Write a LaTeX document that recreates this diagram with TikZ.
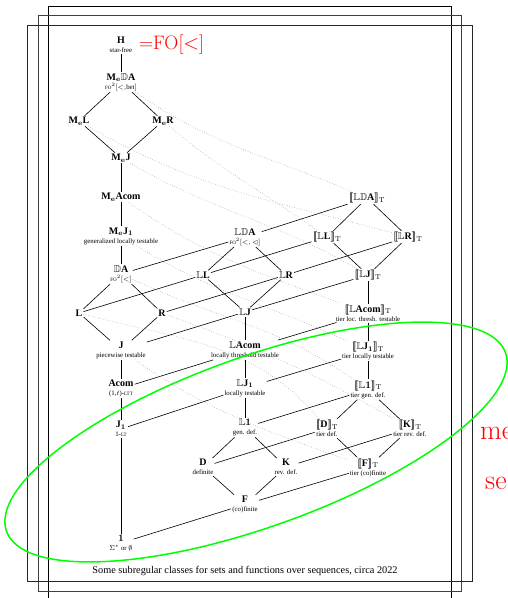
\documentclass[tikz,border=0pt]{standalone}
\usepackage{amssymb}
\usepackage[no-math]{fontspec}
\setmainfont{Liberation Serif}
\usetikzlibrary{positioning}

\newcommand\Me{M$_{\mathbf{e}}$}
\newcommand\bbD{$\mathbb{D}$}
\newcommand\bbL{$\mathbb{L}$}
\newcommand\Jone{J$_{\mathbf{1}}$}
\newcommand\tier[1]{{\boldmath$[\![$}#1{\boldmath$]\!]$}$_{\mathrm{T}}$}
\newcommand\smc[1]{{\fontsize{5}{5}\selectfont #1}}
\newcommand\subf{\fontsize{6.8}{7}\mdseries\selectfont}
\newcommand\lm{\fontfamily{lmr}\selectfont}

\begin{document}
\begin{tikzpicture}[
  x=1pt, y=-1pt,
  cls/.style={align=center, inner sep=1pt, font=\fontsize{10}{9}\selectfont\bfseries},
  edge/.style={draw=black, line width=0.6pt},
  dotl/.style={draw=black!45, dotted, line width=0.5pt},
  frame/.style={draw=#1, line width=0.8pt},
  bigred/.style={text=red, inner sep=0pt, font=\lm},
]
  \useasboundingbox (0,0) rectangle (507,598);

  % page frames
  \draw[frame=black] (48,6) rectangle (451,612);
  \draw[frame=black!75] (38,15) rectangle (461,591);
  \draw[frame=black!85] (27,25) rectangle (472,581);

  % left column
  \node[cls] (H) at (121,44.5) {H\\{\subf star-free}};
  \node[bigred, anchor=west, font=\lm\fontsize{19.5}{20}\selectfont] (fo) at (139,45) {=FO[$<$]};
  \node[cls] (MeDA) at (121,82) {\Me\bbD A\\{\subf\smc{FO}$^2[<,$bet$]$}};
  \node[cls] (MeL) at (79,121) {\Me L};
  \node[cls] (MeR) at (163,121) {\Me R};
  \node[cls] (MeJ) at (121,158) {\Me J};
  \node[cls] (MeAcom) at (121,197) {\Me Acom};
  \node[cls] (MeJ1) at (121,236) {\Me\Jone\\{\subf generalized locally testable}};
  \node[cls] (DA) at (121,274) {\bbD A\\{\subf\smc{FO}$^2[<]$}};
  \node[cls] (L) at (79,313) {L};
  \node[cls] (R) at (162,313) {R};
  \node[cls] (J) at (121,350) {J\\{\subf piecewise testable}};
  \node[cls] (Acom) at (121,388.5) {Acom\\{\subf (1,$t$)-\smc{LTT}}};
  \node[cls] (J1) at (121,429) {\Jone\\{\subf 1-\smc{LT}}};
  \node[cls] (One) at (121,543) {$\mathbf{1}$\\{\subf $\Sigma^*$ or $\emptyset$}};

  % middle column
  \node[cls] (LDA) at (245,237) {\bbL\bbD A\\{\subf\smc{FO}$^2[<,\lhd]$}};
  \node[cls] (LL) at (203,275) {\bbL L};
  \node[cls] (LR) at (286,275) {\bbL R};
  \node[cls] (LJ) at (245,312) {\bbL J};
  \node[cls] (LAcom) at (245,350) {\bbL Acom\\{\subf locally threshold testable}};
  \node[cls] (LJ1) at (245,388) {\bbL\Jone\\{\subf locally testable}};
  \node[cls] (L1) at (245,427.5) {\bbL$\mathbf{1}$\\{\subf gen. def.}};
  \node[cls] (D) at (203,467) {D\\{\subf definite}};
  \node[cls] (K) at (286,467) {K\\{\subf rev. def.}};
  \node[cls] (F) at (245,504.5) {F\\{\subf (co)finite}};

  % right column
  \node[cls] (TLDA) at (367,198) {\tier{\bbL\bbD A}};
  \node[cls] (TLL) at (327,237) {\tier{\bbL L}};
  \node[cls] (TLR) at (408,237) {\tier{\bbL R}};
  \node[cls] (TLJ) at (368,275) {\tier{\bbL J}};
  \node[cls] (TLAcom) at (368,313) {\tier{\bbL Acom}\\{\subf tier loc. thresh. testable}};
  \node[cls] (TLJ1) at (368,351) {\tier{\bbL\Jone}\\{\subf tier locally testable}};
  \node[cls] (TL1) at (368,389.5) {\tier{\bbL$\mathbf{1}$}\\{\subf tier gen. def.}};
  \node[cls] (TD) at (327,428.5) {\tier{D}\\{\subf tier def.}};
  \node[cls] (TK) at (410,428.5) {\tier{K}\\{\subf tier rev. def.}};
  \node[cls] (TF) at (368,467.5) {\tier{F}\\{\subf tier (co)finite}};

  % caption
  \node[font=\fontsize{10.3}{11}\selectfont] (cap) at (245,571) {Some subregular classes for sets and functions over sequences, circa 2022};

  % left lattice
  \draw[edge] (H) -- (MeDA);
  \draw[edge] (MeDA) -- (MeL);
  \draw[edge] (MeDA) -- (MeR);
  \draw[edge] (MeL) -- (MeJ);
  \draw[edge] (MeR) -- (MeJ);
  \draw[edge] (MeJ) -- (MeAcom);
  \draw[edge] (MeAcom) -- (MeJ1);
  \draw[edge] (MeJ1) -- (DA);
  \draw[edge] (DA) -- (L);
  \draw[edge] (DA) -- (R);
  \draw[edge] (L) -- (J);
  \draw[edge] (R) -- (J);
  \draw[edge] (J) -- (Acom);
  \draw[edge] (Acom) -- (J1);
  \draw[edge] (J1) -- (One);

  % middle lattice
  \draw[edge] (LDA) -- (LL);
  \draw[edge] (LDA) -- (LR);
  \draw[edge] (LL) -- (LJ);
  \draw[edge] (LR) -- (LJ);
  \draw[edge] (LJ) -- (LAcom);
  \draw[edge] (LAcom) -- (LJ1);
  \draw[edge] (LJ1) -- (L1);
  \draw[edge] (L1) -- (D);
  \draw[edge] (L1) -- (K);
  \draw[edge] (D) -- (F);
  \draw[edge] (K) -- (F);

  % tier lattice
  \draw[edge] (TLDA) -- (TLL);
  \draw[edge] (TLDA) -- (TLR);
  \draw[edge] (TLL) -- (TLJ);
  \draw[edge] (TLR) -- (TLJ);
  \draw[edge] (TLJ) -- (TLAcom);
  \draw[edge] (TLAcom) -- (TLJ1);
  \draw[edge] (TLJ1) -- (TL1);
  \draw[edge] (TL1) -- (TD);
  \draw[edge] (TL1) -- (TK);
  \draw[edge] (TD) -- (TF);
  \draw[edge] (TK) -- (TF);

  % left to middle
  \draw[edge] (DA) -- (LDA);
  \draw[edge] (L) -- (LL);
  \draw[edge] (R) -- (LR);
  \draw[edge] (J) -- (LJ);
  \draw[edge] (Acom) -- (LAcom);
  \draw[edge] (J1) -- (LJ1);
  \draw[edge] (One) -- (F);

  % middle to tier
  \draw[edge] (LDA) -- (TLDA);
  \draw[edge] (LL) -- (TLL);
  \draw[edge] (LR) -- (TLR);
  \draw[edge] (LJ) -- (TLJ);
  \draw[edge] (LAcom) -- (TLAcom);
  \draw[edge] (LJ1) -- (TLJ1);
  \draw[edge] (L1) -- (TL1);
  \draw[edge] (D) -- (TD);
  \draw[edge] (K) -- (TK);
  \draw[edge] (F) -- (TF);

  % dotted correspondences
  \draw[dotl] (MeDA) to[out=-35,in=157] (TLDA);
  \draw[dotl] (MeR) to[out=-40,in=145] (TLL);
  \draw[dotl] (MeL) to[out=-30,in=165] (TLR);
  \draw[dotl] (MeJ) to[out=-30,in=150] (TLJ);
  \draw[dotl] (MeAcom) to[out=-35,in=160] (TLAcom);
  \draw[dotl] (MeJ1) to[out=-32,in=155] (TLJ1);
  \draw[dotl] (DA) to[out=-25,in=145] (TL1);
  \draw[dotl] (L) to[out=-15,in=130] (TD);
  \draw[dotl] (R) to[out=-20,in=150] (TK);
  \draw[dotl] (J) to[out=-35,in=160] (TF);

  % highlight and margin notes
  \draw[green, line width=1.5pt, rotate around={19.7:(256,442)}] (256,442) ellipse [x radius=265, y radius=85];
  \node[bigred, anchor=base west, font=\lm\fontsize{28}{28}\selectfont] (more) at (480,439) {me};
  \node[bigred, anchor=base west, font=\lm\fontsize{28}{28}\selectfont] (sets) at (485,489) {se};
\end{tikzpicture}
\end{document}
